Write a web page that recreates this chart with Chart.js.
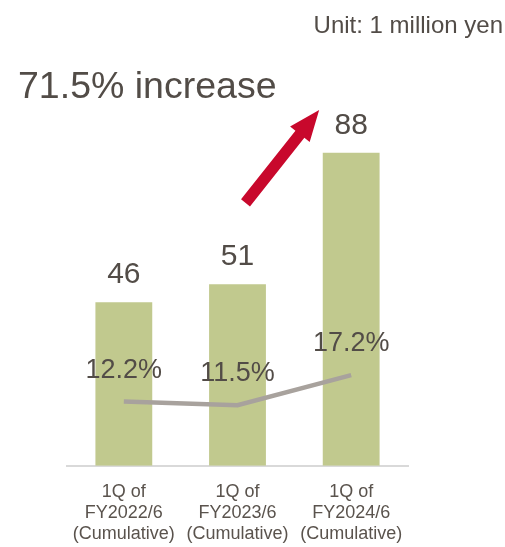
<!DOCTYPE html>
<html>
<head>
<meta charset="utf-8">
<script src="https://cdn.jsdelivr.net/npm/chart.js@4"></script>
<style>
  html, body { margin: 0; padding: 0; background: #fff; }
  #wrap { width: 505px; height: 547px; }
</style>
</head>
<body>
<div id="wrap"><canvas id="salesChart"></canvas></div>
<script>
const categories = [
  ["1Q of", "FY2022/6", "(Cumulative)"],
  ["1Q of", "FY2023/6", "(Cumulative)"],
  ["1Q of", "FY2024/6", "(Cumulative)"],
];
const salesValues = [46, 51, 88];
const marginValues = [12.2, 11.5, 17.2];
const unitText = "Unit: 1 million yen";
const headline = "71.5% increase";

const textColor = "#524c47";
const barColor = "#c1c98e";
const lineColor = "#a8a29d";
const arrowColor = "#c8082c";

// value labels above bars and above the line points
const valueLabels = {
  id: "valueLabels",
  afterDatasetsDraw(chart) {
    const ctx = chart.ctx;
    ctx.save();
    ctx.fillStyle = textColor;
    ctx.textAlign = "center";
    ctx.textBaseline = "alphabetic";

    chart.getDatasetMeta(1).data.forEach((bar, i) => {
      ctx.font = "30px 'Liberation Sans', Arial, sans-serif";
      ctx.fillText(String(salesValues[i]), bar.x, bar.y - 19);
    });
    chart.getDatasetMeta(0).data.forEach((pt, i) => {
      ctx.font = "27px 'Liberation Sans', Arial, sans-serif";
      ctx.fillText(marginValues[i].toFixed(1) + "%", pt.x, pt.y - 24);
    });
    ctx.restore();
  },
};

// headline, unit note and the growth arrow
const annotations = {
  id: "annotations",
  afterDraw(chart) {
    const ctx = chart.ctx;
    const x = chart.scales.x;
    const y = chart.scales.y;
    ctx.save();
    ctx.fillStyle = textColor;

    ctx.font = "24px 'Liberation Sans', Arial, sans-serif";
    ctx.textAlign = "right";
    ctx.fillText(unitText, 503, 33);

    ctx.font = "37.5px 'Liberation Sans', Arial, sans-serif";
    ctx.textAlign = "left";
    ctx.fillText(headline, 18, 98);

    const x0 = x.getPixelForValue(1) + 8;
    const y0 = y.getPixelForValue(73.9);
    const x1 = x.getPixelForValue(2) - 32;
    const y1 = y.getPixelForValue(100);
    const ang = Math.atan2(y1 - y0, x1 - x0);
    const len = Math.hypot(x1 - x0, y1 - y0);
    const shaft = 5.7, headW = 12.5, headL = 31;

    ctx.translate(x0, y0);
    ctx.rotate(ang);
    ctx.beginPath();
    ctx.moveTo(0, -shaft);
    ctx.lineTo(len - headL, -shaft);
    ctx.lineTo(len - headL, -headW);
    ctx.lineTo(len, 0);
    ctx.lineTo(len - headL, headW);
    ctx.lineTo(len - headL, shaft);
    ctx.lineTo(0, shaft);
    ctx.closePath();
    ctx.fillStyle = arrowColor;
    ctx.fill();
    ctx.restore();
  },
};

new Chart(document.getElementById("salesChart"), {
  data: {
    labels: categories,
    datasets: [
      {
        type: "line",
        data: marginValues,
        yAxisID: "y1",
        borderColor: lineColor,
        borderWidth: 4.5,
        pointRadius: 0,
        tension: 0,
        order: 0,
      },
      {
        type: "bar",
        data: salesValues,
        yAxisID: "y",
        backgroundColor: barColor,
        barPercentage: 0.5,
        categoryPercentage: 1,
        order: 1,
      },
    ],
  },
  options: {
    responsive: true,
    maintainAspectRatio: false,
    animation: false,
    layout: { padding: { left: 67, right: 97, top: 110, bottom: -14 } },
    plugins: {
      legend: { display: false },
      tooltip: { enabled: false },
    },
    scales: {
      x: {
        grid: { display: false, drawTicks: false },
        border: { display: true, color: "#d9d9d9", width: 2 },
        ticks: {
          color: "#5a534d",
          font: { family: "'Liberation Sans', Arial, sans-serif", size: 18, lineHeight: 1.17 },
          padding: 16,
          maxRotation: 0,
          autoSkip: false,
        },
      },
      y: { display: false, min: 0, max: 100 },
      y1: { display: false, min: 0, max: 67.5 },
    },
  },
  plugins: [valueLabels, annotations],
});
</script>
</body>
</html>
